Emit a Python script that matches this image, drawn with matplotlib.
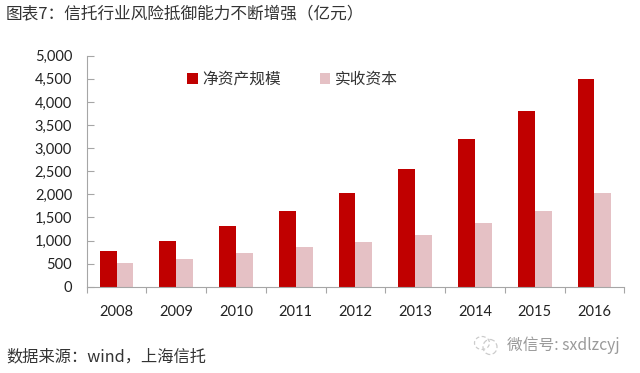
#coding:utf-8
import matplotlib
matplotlib.use('Agg')
import matplotlib.pyplot as plt
import numpy as np
from matplotlib.patches import Ellipse

years = ['2008', '2009', '2010', '2011', '2012', '2013', '2014', '2015', '2016']
net_assets = [775, 1000, 1320, 1630, 2030, 2550, 3190, 3810, 4500]
paid_capital = [506, 590, 740, 860, 970, 1110, 1380, 1640, 2030]
yticks = [0, 500, 1000, 1500, 2000, 2500, 3000, 3500, 4000, 4500, 5000]

W, H = 640, 373
CJK = ['Noto Sans CJK SC', 'DejaVu Sans']
L, R, T, B = 86.7, 624.3, 55.7, 286.7

fig = plt.figure(figsize=(W / 100, H / 100), dpi=100)
ax = fig.add_axes([L / W, 1 - B / H, (R - L) / W, (B - T) / H])

x = np.arange(len(years))
bw = 0.282
ax.bar(x - bw / 2, net_assets, bw, color='#c00000', label='净资产规模')
ax.bar(x + bw / 2, paid_capital, bw, color='#e5c1c5', label='实收资本')

ax.set_xlim(-0.5, 8.5)
ax.set_ylim(0, 5000)
ax.set_yticks(yticks)
ax.set_yticklabels(['{:,}'.format(v) for v in yticks], family='Lato', fontsize=10.5, color='#222222')
ax.set_xticks(np.arange(-0.5, 9, 1))
ax.set_xticklabels([])
ax.tick_params(axis='y', direction='in', length=5, color='#a6a6a6', pad=10.5)
ax.tick_params(axis='x', direction='out', length=4, color='#a6a6a6')
for i, y in enumerate(years):
    ax.text(i, -(312 - B) / (B - T), y, transform=ax.get_xaxis_transform(), ha='center', va='center',
            family='Lato', fontsize=10.5, color='#222222')

ax.spines['top'].set_visible(False)
ax.spines['right'].set_visible(False)
ax.spines['left'].set_color('#a6a6a6')
ax.spines['bottom'].set_color('#a6a6a6')

# 图例，手工放位置
leg = ax.legend(loc='upper left', bbox_to_anchor=((187 - L) / (R - L), 1 - (71 - T) / (B - T)), ncol=2,
                frameon=False, handlelength=0.68, handleheight=0.68,
                handletextpad=0.3, columnspacing=2.45, borderpad=0, borderaxespad=0,
                prop={'family': CJK, 'size': 11.3})
for t in leg.get_texts():
    t.set_color('#333333')

fig.text(6 / W, 1 - 15 / H, '图表7：信托行业风险抵御能力不断增强（亿元）', family=CJK,
         fontsize=12, color='#333333', va='center', ha='left')
fig.text(6 / W, 1 - 357 / H, '数据来源：wind，上海信托', family=CJK,
         fontsize=11.7, color='#333333', va='center', ha='left')
fig.text(507 / W, 1 - 345 / H, '微信号: sxdlzcyj', family=CJK,
         fontsize=11.3, color='#9a9a9a', va='center', ha='left')

# 水印小图标
bg = fig.add_axes([0, 0, 1, 1], zorder=-1)
bg.set_xlim(0, W)
bg.set_ylim(H, 0)
bg.axis('off')
bg.add_patch(Ellipse((482, 343), 15, 13, fill=False, ec='#cccccc', lw=0.9, ls=(0, (3, 2))))
bg.add_patch(Ellipse((490, 347), 14, 15, fill=False, ec='#cccccc', lw=0.9, ls=(0, (4, 2))))

fig.savefig('out.png', dpi=100)
